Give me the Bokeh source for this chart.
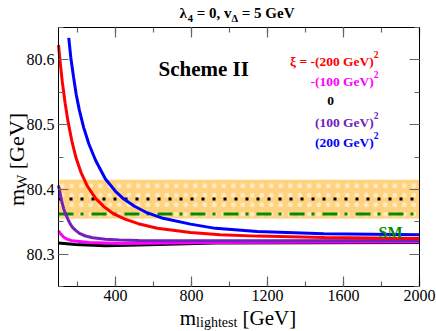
import math
from bokeh.plotting import figure
from bokeh.models import Range1d, FixedTicker, LinearAxis, Label, BoxAnnotation
from bokeh.embed import file_html
from bokeh.resources import INLINE

# ---------------- data ----------------
x_red = [100, 110, 120, 135, 150, 170, 193, 220, 250, 295, 340, 391, 450, 520, 620, 795, 950, 1146, 1500, 2000]
y_red = [80.623, 80.593, 80.566, 80.533, 80.505, 80.475, 80.448, 80.425, 80.406, 80.386, 80.373,
         80.362, 80.354, 80.347, 80.340, 80.3335, 80.330, 80.3278, 80.3255, 80.324]

x_blue = [154, 165, 180, 193, 210, 233, 260, 295, 347, 400, 444, 500, 558, 650, 795, 926, 1146, 1496, 2000]
y_blue = [80.634, 80.603, 80.572, 80.547, 80.522, 80.495, 80.470, 80.445, 80.416, 80.397, 80.385,
          80.374, 80.365, 80.3553, 80.3463, 80.3398, 80.335, 80.3316, 80.3298]

x_purple = [100, 110, 119, 128, 137, 150, 163, 175, 189, 210, 242, 280, 347, 420, 523, 700, 1200, 2000]
y_purple = [80.406, 80.3915, 80.379, 80.3695, 80.362, 80.3535, 80.346, 80.341, 80.337, 80.332,
            80.328, 80.3253, 80.323, 80.3218, 80.321, 80.3206, 80.3205, 80.321]

x_magenta = [100, 112, 128, 145, 172, 260, 435, 926, 2000]
y_magenta = [80.336, 80.331, 80.326, 80.3232, 80.3205, 80.318, 80.3164, 80.318, 80.319]

x_black = [100, 189, 347, 523, 926, 2000]
y_black = [80.317, 80.315, 80.313, 80.314, 80.317, 80.318]

band_low, band_high = 80.355, 80.415   # experimental band
mw_exp = 80.385                        # dotted line
mw_sm = 80.362                         # SM dash-dot line

x_ticks = [400, 800, 1200, 1600, 2000]
x_minor = [200, 400, 600, 800, 1000, 1200, 1400, 1600, 1800, 2000]
y_ticks = [80.3, 80.4, 80.5, 80.6]
y_minor = [80.25, 80.3, 80.35, 80.4, 80.45, 80.5, 80.55, 80.6, 80.65]

legend_texts = ["-(200 GeV)", "-(100 GeV)", "0", "(100 GeV)", "(200 GeV)"]
legend_colors = ["#FF0000", "#FF00FF", "#000000", "#7221BC", "#0000FF"]

X0, X1 = 100, 2000
Y0, Y1 = 80.25, 80.65

# ---------------- geometry ----------------
W, H = 436, 331
BL, BR, BT, BB = 58, 17, 27, 45          # box position inside the canvas
BW, BH = W - BL - BR, H - BT - BB
xs = (X1 - X0) / BW
ys = (Y1 - Y0) / BH
xr = Range1d(X0 - BL * xs, X1 + BR * xs)
yr = Range1d(Y0 - BB * ys, Y1 + BT * ys)

p = figure(width=W, height=H, output_backend="svg", toolbar_location=None,
           x_range=xr, y_range=yr, min_border=0,
           x_axis_type=None, y_axis_type=None, title=None)
p.grid.visible = False
p.outline_line_color = None
p.background_fill_color = "white"
p.border_fill_color = "white"

FONT = "Liberation Serif"
TICKC = "#666666"

def style_axis(ax, ticks, show_labels, standoff):
    ax.axis_line_color = "black"
    ax.axis_line_width = 1
    ax.major_tick_in = 10
    ax.major_tick_out = 0
    ax.minor_tick_in = 5
    ax.minor_tick_out = 0
    ax.major_tick_line_color = TICKC
    ax.minor_tick_line_color = TICKC
    ax.major_tick_line_width = 1.2
    ax.minor_tick_line_width = 1.2
    ax.major_label_text_font = FONT
    ax.major_label_text_font_size = "16px"
    ax.major_label_text_color = "black"
    ax.major_label_standoff = standoff
    if not show_labels:
        ax.major_label_overrides = {t: "" for t in ticks}

xt = FixedTicker(ticks=x_ticks, minor_ticks=x_minor)
yt = FixedTicker(ticks=y_ticks, minor_ticks=y_minor)

xb = LinearAxis(ticker=xt, fixed_location=Y0, bounds=(X0, X1)); style_axis(xb, x_ticks, True, 3)
xa = LinearAxis(ticker=xt, fixed_location=Y1, bounds=(X0, X1)); style_axis(xa, x_ticks, False, 3)
yl = LinearAxis(ticker=yt, fixed_location=X0, bounds=(Y0, Y1)); style_axis(yl, y_ticks, True, 4)
yrr = LinearAxis(ticker=yt, fixed_location=X1, bounds=(Y0, Y1)); style_axis(yrr, y_ticks, False, 4)
p.add_layout(xb, "below")
p.add_layout(xa, "above")
p.add_layout(yl, "left")
p.add_layout(yrr, "right")

# band with dotted pattern
band = BoxAnnotation(left=X0, right=X1, bottom=band_low, top=band_high,
                     fill_color="#FFD27F", fill_alpha=1.0, line_color=None,
                     hatch_pattern="dot", hatch_color="white", hatch_scale=9.5,
                     hatch_alpha=0.55, hatch_weight=1, level="underlay")
p.add_layout(band)

p.line([X0, X1], [mw_exp, mw_exp], line_color="black", line_width=3, line_dash="3 8")
p.line([X0, X1], [mw_sm, mw_sm], line_color="#008B00", line_width=3, line_dash="15 7 3 8")

LW = 3
p.line(x_black, y_black, line_color="black", line_width=LW)
p.line(x_magenta, y_magenta, line_color="#FF00FF", line_width=LW)
p.line(x_purple, y_purple, line_color="#7221BC", line_width=LW)
p.line(x_red, y_red, line_color="#FF0000", line_width=LW)
p.line(x_blue, y_blue, line_color="#0000FF", line_width=LW)

# ---------------- text helpers (canvas pixel -> data) ----------------
def dx(px):
    return xr.start + px * xs

def dy(py):
    return yr.end - py * ys

REG = {' ': 250, '[': 333, ']': 333, 'G': 722, 'e': 444, 'V': 722, 'm': 778, 'W': 944,
       'l': 278, 'i': 278, 'g': 500, 'h': 500, 't': 278, 's': 389}
BOLD = {' ': 250, '=': 570, ',': 250, '-': 333, '(': 333, ')': 333, 'G': 778, 'e': 444,
        'V': 722, 'v': 500, 'λ': 550, 'Δ': 612, 'ξ': 440, 'S': 556, 'M': 944, 'c': 444,
        'h': 556, 'm': 833, 'I': 389}

def width(t, size, bold):
    tab = BOLD if bold else REG
    return sum((500 if ch.isdigit() else tab.get(ch, 500)) for ch in t) * size / 1000.0

def rich(pieces, px, py, align="left", angle=0.0):
    # pieces: (text, size, bold, color, shift) ; shift > 0 raises
    total = sum(width(t, s, b) for t, s, b, c, sh in pieces)
    cum = {"left": 0, "center": -total / 2, "right": -total}[align]
    for t, s, b, c, sh in pieces:
        lead = len(t) - len(t.lstrip(" "))
        off = cum + width(" " * lead, s, b)
        if angle == 0:
            x, y = px + off, py - sh
        else:
            x, y = px - sh, py - off
        p.add_layout(Label(x=dx(x), y=dy(y), text=t.strip(" "), text_font=FONT,
                           text_font_size=f"{s}px",
                           text_font_style="bold" if b else "normal", text_color=c,
                           text_align="left", text_baseline="alphabetic", angle=angle))
        cum += width(t, s, b)

# title
rich([("λ", 15, True, "black", 0), ("4", 10.5, True, "black", -5),
      (" = 0, v", 15, True, "black", 0), ("Δ", 10.5, True, "black", -5),
      (" = 5 GeV", 15, True, "black", 0)], 236.5, 12.5, align="center")

# Scheme II
rich([("Scheme II", 21, True, "black", 0)], 158, 68)

# legend lines
bases = [60.5, 81, 100.5, 121.5, 142]
for i, (t, c) in enumerate(zip(legend_texts, legend_colors)):
    if t == "0":
        rich([(t, 13.5, True, c, 0)], 330, bases[i], align="center")
    else:
        pre = [("ξ = ", 13.5, True, c, 0)] if i == 0 else []
        rich(pre + [(t, 13.5, True, c, 0), ("2", 9.5, True, c, 7)], 378, bases[i], align="right")

# SM
rich([("SM", 16, True, "#008B00", 0)], 390, 231.5, align="center")

# axis labels
rich([("m", 21, False, "black", 0), ("lightest", 14, False, "black", -4.5),
      (" [GeV]", 21, False, "black", 0)], 237.5, 317.5, align="center")
rich([("m", 22, False, "black", 0), ("W", 15, False, "black", -5),
      (" [GeV]", 22, False, "black", 0)], 16, 159, align="center", angle=math.pi / 2)

open("out.html", "w").write(file_html(p, INLINE))
